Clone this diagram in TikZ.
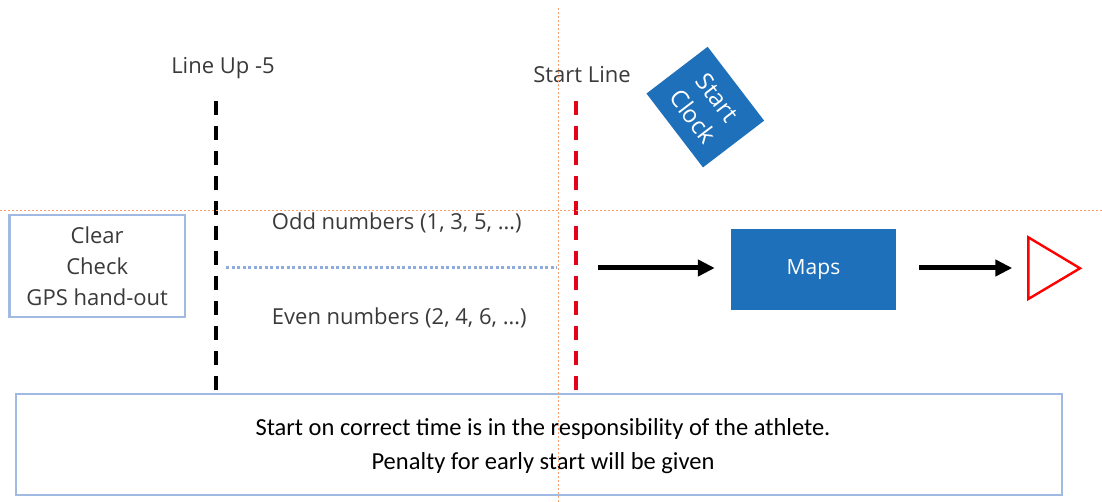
\documentclass[tikz,border=0pt]{standalone}
\usepackage{fontspec}
\setmainfont{Open Sans}
\newfontfamily\calfont{Carlito}
\usetikzlibrary{arrows.meta}
\definecolor{segtext}{RGB}{58,58,58}
\definecolor{guide}{RGB}{248,160,112}
\definecolor{boxblue}{RGB}{30,112,186}
\definecolor{paleblue}{RGB}{160,186,228}
\definecolor{dotblue}{RGB}{143,170,220}
\definecolor{linered}{RGB}{226,0,26}
\begin{document}
\begin{tikzpicture}[x=1pt,y=-1pt,
  lbl/.style={font=\fontsize{22}{31}\selectfont, text=segtext, inner sep=0pt},
  guideline/.style={draw=guide, line width=1pt, dash pattern=on 2pt off 2pt},
  postline/.style={line width=4pt, dash pattern=on 14pt off 11pt},
  outlinebox/.style={draw=paleblue, line width=2.6pt, fill=white},
  bluebox/.style={fill=boxblue, text=white, font=\fontsize{21}{30}\selectfont, inner sep=0pt},
  arr/.style={line width=5pt, -{Triangle[length=17pt,width=16pt]}},
]
\useasboundingbox[fill=white] (0,0) rectangle (1102,502);

% bottom note box
\node[outlinebox, minimum width=1046pt, minimum height=101pt, inner sep=0pt] (note) at (539,444.5) {};
\node[align=center, inner sep=0pt, font=\calfont\fontsize{24.5}{34}\selectfont, text=black]
  (notetext) at (543,446) {Start on correct time is in the responsibility of the athlete.\\Penalty for early start will be given};

% labels of the lines
\node[lbl] (lineup) at (223,68) {Line Up -5};
\node[lbl] (startline) at (582,75) {Start Line};

% dashed posts
\coordinate (lu-top) at (216,101);
\coordinate (lu-bot) at (216,390);
\coordinate (sl-top) at (576,101);
\coordinate (sl-bot) at (576,390);
\draw[postline, black] (lu-top) -- (lu-bot);
\draw[postline, linered] (sl-top) -- (sl-bot);

% start clock
\node[bluebox, font=\fontsize{24}{31}\selectfont, rotate=-52.6, minimum width=93pt, minimum height=77pt, align=center] (clock)
  at (705.3,107.1) {Start\\Clock};

% preparation box
\node[outlinebox, lbl, minimum width=175.7pt, minimum height=102.3pt, align=center] (prep)
  at (97.2,266) {Clear\\Check\\GPS hand-out};

% odd / even
\node[lbl, anchor=west] (odd) at (271.7,223) {Odd numbers (1, 3, 5, …)};
\node[lbl, anchor=west] (even) at (271.7,318) {Even numbers (2, 4, 6, …)};

% blue dotted line
\coordinate (dot-l) at (226,267.5);
\coordinate (dot-r) at (557,267.5);
\draw[dotblue, line width=3pt, dash pattern=on 3pt off 2.5pt] (dot-l) -- (dot-r);

% maps
\node[bluebox, minimum width=165pt, minimum height=80.7pt] (maps) at (813.5,269.7) {Maps};

% goal triangle
\coordinate (tri-a) at (1028.3,237.3);
\coordinate (tri-b) at (1080,268.3);
\coordinate (tri-c) at (1028.3,299);
\coordinate (goal) at (1028.3,268);
\draw[red, line width=2.4pt, line join=miter] (tri-a) -- (tri-b) -- (tri-c) -- cycle;

% arrows
\coordinate (a1s) at (598,268);
\draw[arr, shorten >=16pt] (a1s) -- (a1s -| maps.west);
\draw[arr, shorten <=23pt, shorten >=16pt] (maps.east |- goal) -- (goal);

% guide lines
\coordinate (gv-top) at (558,8);
\coordinate (gv-bot) at (558,502);
\coordinate (gh-l) at (0,210.7);
\coordinate (gh-r) at (1102,210.7);
\draw[guideline] (gv-top) -- (gv-bot);
\draw[guideline] (gh-l) -- (gh-r);
\end{tikzpicture}
\end{document}
